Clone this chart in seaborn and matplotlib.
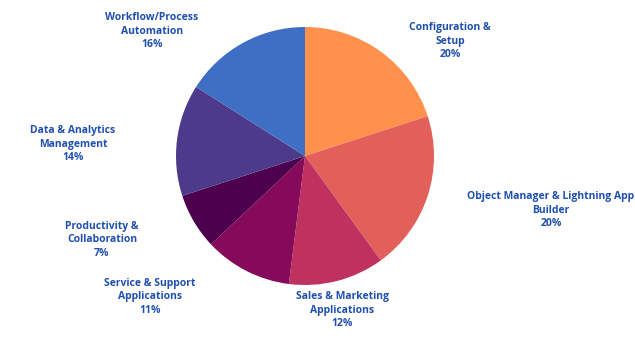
import matplotlib
matplotlib.use("Agg")
import matplotlib.pyplot as plt
import seaborn as sns

categories = [
    "Configuration &\nSetup",
    "Object Manager & Lightning App\nBuilder",
    "Sales & Marketing\nApplications",
    "Service & Support\nApplications",
    "Productivity &\nCollaboration",
    "Data & Analytics\nManagement",
    "Workflow/Process\nAutomation",
]
values = [20, 20, 12, 11, 7, 14, 16]
colors = ["#FF914D", "#E35F5A", "#BF315F", "#850B5A", "#4D004D", "#4E3A8A", "#3F6FC4"]

# label centre positions in pixel space (x, y from top)
label_pos = [(450, 41), (551, 210), (342, 310), (150, 297), (102, 240), (73, 144), (152, 31)]

sns.set_theme(style="white")
plt.rcParams["font.family"] = ["Open Sans", "DejaVu Sans"]

W, H = 635, 347
fig = plt.figure(figsize=(W / 100, H / 100), dpi=100)
ax = fig.add_axes([0, 0, 1, 1])
ax.set_xlim(0, W)
ax.set_ylim(0, H)
ax.set_aspect("equal")
ax.axis("off")

pal = sns.color_palette(colors)
ax.pie(values, colors=pal, startangle=90, counterclock=False,
       center=(305, H - 156), radius=129,
       wedgeprops=dict(linewidth=0), frame=True)
ax.set_xlim(0, W)
ax.set_ylim(0, H)
ax.axis("off")

for cat, v, (x, y) in zip(categories, values, label_pos):
    ax.text(x, H - y, f"{cat}\n{v}%", ha="center", va="center",
            fontsize=7.5, fontweight="bold", color="#1F50AE", linespacing=1.35)

fig.savefig("out.png", dpi=100)
